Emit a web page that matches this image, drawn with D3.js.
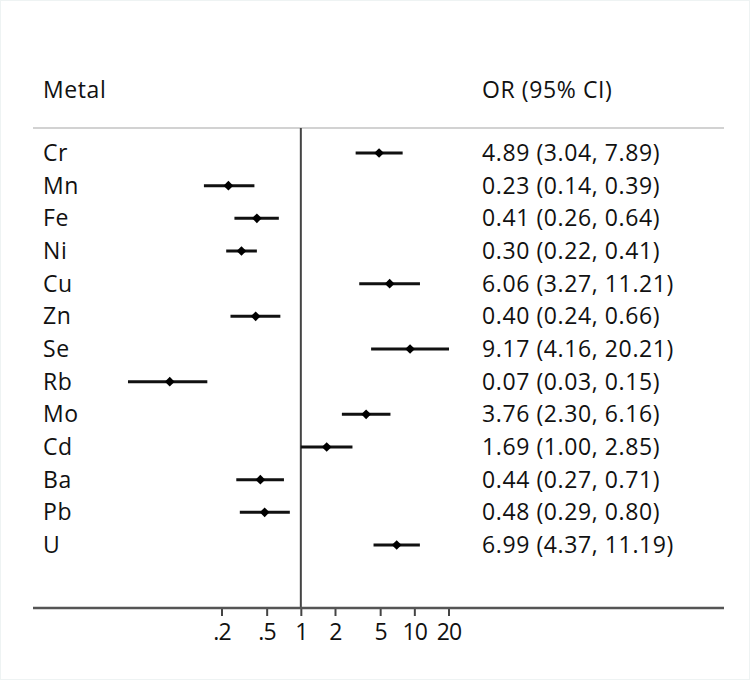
<!DOCTYPE html>
<html>
<head>
<meta charset="utf-8">
<script src="https://cdn.jsdelivr.net/npm/d3@7"></script>
<style>
  body { margin: 0; background: #fff; }
  text { font-family: "Open Sans", sans-serif; fill: #111; }
</style>
</head>
<body>
<script>
const metals = ['Cr', 'Mn', 'Fe', 'Ni', 'Cu', 'Zn', 'Se', 'Rb', 'Mo', 'Cd', 'Ba', 'Pb', 'U'];
const orValues = [4.89, 0.23, 0.41, 0.30, 6.06, 0.40, 9.17, 0.07, 3.76, 1.69, 0.44, 0.48, 6.99];
const ciLower = [3.04, 0.14, 0.26, 0.22, 3.27, 0.24, 4.16, 0.03, 2.30, 1.00, 0.27, 0.29, 4.37];
const ciUpper = [7.89, 0.39, 0.64, 0.41, 11.21, 0.66, 20.21, 0.15, 6.16, 2.85, 0.71, 0.80, 11.19];
const tickValues = [0.2, 0.5, 1, 2, 5, 10, 20];

const width = 750;
const height = 680;
const fmt = d3.format('.2f');

const rows = metals.map((m, i) => ({
    metal: m, or: orValues[i], lo: ciLower[i], hi: ciUpper[i]
}));

const svg = d3.select('body').append('svg')
    .attr('width', width)
    .attr('height', height);

// faint frame round the picture
svg.append('rect')
    .attr('x', 0.5).attr('y', 0.5)
    .attr('width', width - 1).attr('height', height - 1)
    .attr('fill', 'none')
    .attr('stroke', '#eef3f3');

const x = d3.scaleLog()
    .domain([0.2, 20])
    .range([221.5, 448.5]);

const y = d3.scalePoint()
    .domain(metals)
    .range([153, 545]);

const headY = 128, axisY = 608, plotLeft = 33, plotRight = 724;
const labelX = 43, textX = 482;
const fontSize = 23, spacing = 0.6;

// headers
svg.append('text').attr('x', labelX).attr('y', 98)
    .attr('font-size', fontSize).attr('letter-spacing', spacing).text('Metal');
svg.append('text').attr('x', textX).attr('y', 98)
    .attr('font-size', fontSize).attr('letter-spacing', spacing).text('OR (95% CI)');

svg.append('line')
    .attr('x1', plotLeft).attr('x2', plotRight)
    .attr('y1', headY).attr('y2', headY)
    .attr('stroke', '#d2d2d2').attr('stroke-width', 2);

// reference line at OR = 1
svg.append('line')
    .attr('x1', x(1)).attr('x2', x(1))
    .attr('y1', headY).attr('y2', axisY)
    .attr('stroke', '#444').attr('stroke-width', 2);

// x axis
const axis = svg.append('g')
    .attr('transform', `translate(0,${axisY})`)
    .call(d3.axisBottom(x)
        .tickValues(tickValues)
        .tickSize(8)
        .tickPadding(8)
        .tickFormat(d => d < 1 ? String(d).replace(/^0/, '') : String(d)));
axis.select('.domain').remove();
axis.selectAll('.tick line').attr('stroke', '#444').attr('stroke-width', 2);
axis.selectAll('.tick text')
    .attr('font-size', 23)
    .attr('letter-spacing', -0.8)
    .attr('font-family', '"Open Sans", sans-serif')
    .attr('fill', '#111');

svg.append('line')
    .attr('x1', plotLeft).attr('x2', plotRight)
    .attr('y1', axisY).attr('y2', axisY)
    .attr('stroke', '#555').attr('stroke-width', 2.5);

// rows
const row = svg.selectAll('g.row')
    .data(rows)
    .enter()
    .append('g')
    .attr('class', 'row');

row.append('text')
    .attr('x', labelX)
    .attr('y', d => y(d.metal) + 8)
    .attr('font-size', fontSize)
    .attr('letter-spacing', spacing)
    .text(d => d.metal);

row.append('text')
    .attr('x', textX)
    .attr('y', d => y(d.metal) + 8)
    .attr('font-size', fontSize)
    .attr('letter-spacing', spacing)
    .text(d => `${fmt(d.or)} (${fmt(d.lo)}, ${fmt(d.hi)})`);

row.append('line')
    .attr('x1', d => x(d.lo))
    .attr('x2', d => x(d.hi))
    .attr('y1', d => y(d.metal))
    .attr('y2', d => y(d.metal))
    .attr('stroke', '#111')
    .attr('stroke-width', 3);

row.append('path')
    .attr('d', d3.symbol().type(d3.symbolDiamond2).size(60))
    .attr('transform', d => `translate(${x(d.or)},${y(d.metal)})`)
    .attr('fill', '#000');
</script>
</body>
</html>
